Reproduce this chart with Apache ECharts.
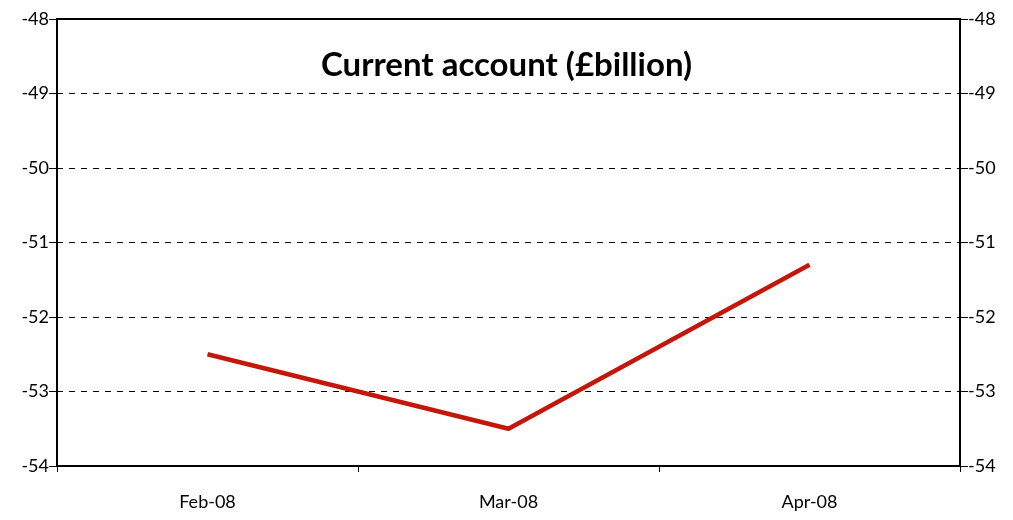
<!DOCTYPE html>
<html><head><meta charset="utf-8">
<script src="https://cdn.jsdelivr.net/npm/echarts@6/dist/echarts.min.js"></script>
<style>html,body{margin:0;padding:0;background:#fff}#c{width:1013px;height:520px}</style>
</head><body><div id="c"></div>
<script>
const categories = ['Feb-08', 'Mar-08', 'Apr-08'];
const currentAccount = [-52.5, -53.5, -51.3];
const titleText = 'Current account (£billion)';
const font = 'Lato, "Open Sans", sans-serif';
const chart = echarts.init(document.getElementById('c'));
const yAxisBase = {
  type: 'value', min: -54, max: -48, interval: 1,
  axisLine: {show: true, lineStyle: {color: '#000', width: 2}},
  axisTick: {show: true, length: 8, lineStyle: {color: '#000', width: 1}},
  axisLabel: {color: '#000', fontSize: 18, fontFamily: font, margin: 8}
};
chart.setOption({
  animation: false,
  backgroundColor: '#fff',
  title: {text: titleText, left: 'center', top: 44,
    textStyle: {fontFamily: font, fontWeight: 'bold', fontSize: 33, color: '#000'}},
  grid: {left: 57, right: 53, top: 19, bottom: 54, show: true, borderColor: '#000', borderWidth: 2},
  xAxis: {
    type: 'category', data: categories, boundaryGap: true,
    axisLine: {lineStyle: {color: '#000', width: 2}},
    axisTick: {show: true, length: 6, lineStyle: {color: '#000', width: 1}},
    axisLabel: {color: '#000', fontSize: 18, fontFamily: font, margin: 27},
    splitLine: {show: false}
  },
  yAxis: [
    Object.assign({}, yAxisBase, {position: 'left',
      splitLine: {show: true, lineStyle: {type: [6, 6], color: '#000', width: 1}}}),
    Object.assign({}, yAxisBase, {position: 'right', splitLine: {show: false}})
  ],
  series: [{
    type: 'line', data: currentAccount, yAxisIndex: 0,
    symbol: 'none', lineStyle: {color: '#c4170c', width: 4.5}
  }]
});
</script></body></html>
